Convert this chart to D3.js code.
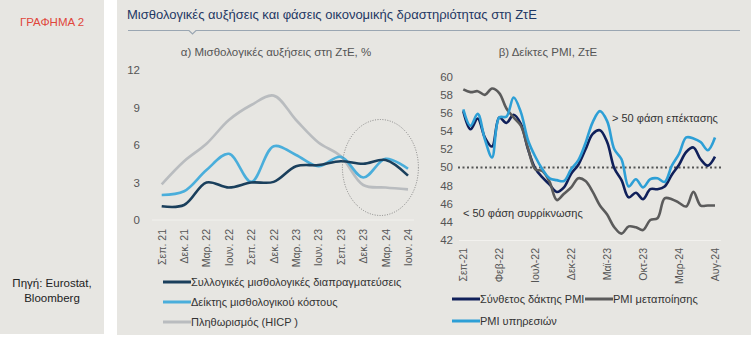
<!DOCTYPE html>
<html>
<head>
<meta charset="utf-8">
<script src="https://cdn.jsdelivr.net/npm/d3@7"></script>
<style>
  body { margin: 0; background: #fff; }
  svg { display: block; font-family: "Liberation Sans", Arial, sans-serif; }
</style>
</head>
<body>
<svg id="chart" width="751" height="338"></svg>
<script>
// left chart: quarterly wage growth, %
var quarters = ["Σεπ. 21", "Δεκ. 21", "Μαρ. 22", "Ιουν. 22", "Σεπ. 22", "Δεκ. 22",
  "Μαρ. 23", "Ιουν. 23", "Σεπ. 23", "Δεκ. 23", "Μαρ. 24", "Ιουν. 24"];
var negotiated = [1.1, 1.2, 3.0, 2.6, 3.0, 3.05, 4.3, 4.4, 4.7, 4.5, 4.8, 3.55];
var wageCost = [2.0, 2.3, 4.0, 5.3, 3.05, 5.9, 5.2, 4.3, 5.05, 3.4, 4.9, 4.1];
var hicp = [2.85, 4.7, 6.1, 8.0, 9.2, 9.95, 8.0, 6.2, 5.1, 2.8, 2.6, 2.45];
var leftTicks = [0, 3, 6, 9, 12];

// right chart: monthly PMI, Sep-21 .. Aug-24
var months = ["Σεπ-21", "Οκτ-21", "Νοε-21", "Δεκ-21", "Ιαν-22", "Φεβ-22", "Μαρ-22", "Απρ-22",
  "Μαϊ-22", "Ιουν-22", "Ιουλ-22", "Αυγ-22", "Σεπ-22", "Οκτ-22", "Νοε-22", "Δεκ-22",
  "Ιαν-23", "Φεβ-23", "Μαρ-23", "Απρ-23", "Μαϊ-23", "Ιουν-23", "Ιουλ-23", "Αυγ-23",
  "Σεπ-23", "Οκτ-23", "Νοε-23", "Δεκ-23", "Ιαν-24", "Φεβ-24", "Μαρ-24", "Απρ-24",
  "Μαϊ-24", "Ιουν-24", "Ιουλ-24", "Αυγ-24"];
var composite = [56.2, 54.2, 55.4, 53.3, 52.3, 55.5, 54.9, 55.8, 54.8, 52.0, 49.9, 48.9,
  48.1, 47.3, 47.8, 49.3, 50.3, 52.0, 53.7, 54.1, 52.8, 49.9, 48.6, 46.7,
  47.2, 46.5, 47.6, 47.6, 47.9, 49.2, 50.3, 51.7, 52.2, 50.9, 50.2, 51.2];
var manufacturing = [58.6, 58.3, 58.4, 58.0, 58.7, 58.2, 56.5, 55.5, 54.6, 52.1, 49.8, 49.6,
  48.4, 46.4, 47.1, 47.8, 48.8, 48.5, 47.3, 45.8, 44.8, 43.4, 42.7, 43.5,
  43.4, 43.1, 44.2, 44.4, 46.6, 46.5, 46.1, 45.7, 47.3, 45.8, 45.8, 45.8];
var services = [56.4, 54.6, 55.9, 53.1, 51.1, 55.5, 55.6, 57.7, 56.1, 53.0, 51.2, 49.8,
  48.8, 48.6, 48.5, 49.8, 50.8, 52.7, 55.0, 56.2, 55.1, 52.0, 50.9, 47.9,
  48.7, 47.8, 48.7, 48.8, 48.4, 50.2, 51.5, 53.3, 53.2, 52.8, 51.9, 53.3];
var rightTicks = [42, 44, 46, 48, 50, 52, 54, 56, 58, 60];
var monthLabelStep = 5;

var svg = d3.select("#chart");
var bg = "#e7e6e2";

// panels
svg.append("rect").attr("x", 0).attr("y", 0).attr("width", 104).attr("height", 334).attr("fill", bg);
svg.append("rect").attr("x", 117).attr("y", 0).attr("width", 634).attr("height", 335).attr("fill", bg);

svg.append("text").attr("x", 52).attr("y", 26).attr("text-anchor", "middle")
  .attr("font-size", 11.5).attr("fill", "#e0463c").text("ΓΡΑΦΗΜΑ 2");
svg.append("text").attr("x", 52).attr("y", 287).attr("text-anchor", "middle")
  .attr("font-size", 11.5).attr("fill", "#222").text("Πηγή: Eurostat,");
svg.append("text").attr("x", 52).attr("y", 302).attr("text-anchor", "middle")
  .attr("font-size", 11.5).attr("fill", "#222").text("Bloomberg");

// title and rule with the small notch
svg.append("text").attr("x", 127).attr("y", 19).attr("font-size", 13)
  .attr("fill", "#1f3864").text("Μισθολογικές αυξήσεις και φάσεις οικονομικής δραστηριότητας στη ΖτΕ");
svg.append("path")
  .attr("d", "M128,30.5H189L192.5,34L196,30.5H740")
  .attr("fill", "none").attr("stroke", "#9aa6b2").attr("stroke-width", 1.2);

svg.append("text").attr("x", 276).attr("y", 56).attr("text-anchor", "middle")
  .attr("font-size", 11.5).attr("fill", "#555").text("α) Μισθολογικές αυξήσεις στη ΖτΕ, %");
svg.append("text").attr("x", 548).attr("y", 56).attr("text-anchor", "middle")
  .attr("font-size", 11.5).attr("fill", "#555").text("β) Δείκτες PMI, ΖτΕ");

// ---- left chart ----
var x1 = d3.scalePoint().domain(quarters).range([161.7, 408]);
var y1 = d3.scaleLinear().domain([0, 12]).range([220, 70]);

var left = svg.append("g");
left.append("line").attr("x1", 152).attr("x2", 414).attr("y1", y1(0)).attr("y2", y1(0))
  .attr("stroke", "#f2f1ee").attr("stroke-width", 1);

left.selectAll(".ytick").data(leftTicks).enter().append("text")
  .attr("x", 140).attr("y", function (d) { return y1(d) + 4; })
  .attr("text-anchor", "end").attr("font-size", 11.5).attr("fill", "#555")
  .text(function (d) { return d; });

left.selectAll(".xtick").data(quarters).enter().append("text")
  .attr("transform", function (d) { return "translate(" + (x1(d) + 4) + ",229) rotate(-90)"; })
  .attr("text-anchor", "end").attr("font-size", 10.5).attr("fill", "#555")
  .text(function (d) { return d; });

var line1 = d3.line()
  .x(function (d, i) { return x1(quarters[i]); })
  .y(function (d) { return y1(d); })
  .curve(d3.curveCatmullRom.alpha(0.5));

var leftSeries = [
  { name: "Πληθωρισμός (HICP )", values: hicp, color: "#b9bcbf" },
  { name: "Δείκτης μισθολογικού κόστους", values: wageCost, color: "#4aaedb" },
  { name: "Συλλογικές μισθολογικές διαπραγματεύσεις", values: negotiated, color: "#1a3f5c" }
];
leftSeries.forEach(function (s) {
  left.append("path").datum(s.values).attr("d", line1)
    .attr("fill", "none").attr("stroke", s.color).attr("stroke-width", 2.6);
});

// dotted ellipse around the latest quarters
left.append("ellipse")
  .attr("cx", (x1("Δεκ. 23") + x1("Μαρ. 24")) / 2 + 6).attr("cy", y1(4.2))
  .attr("rx", 38).attr("ry", 48)
  .attr("fill", "none").attr("stroke", "#7a7a7a").attr("stroke-width", 0.9)
  .attr("stroke-dasharray", "1,1.5");

var leftLegend = leftSeries.slice().reverse();
leftLegend.forEach(function (s, i) {
  var yy = 282 + i * 20;
  left.append("line").attr("x1", 163).attr("x2", 191).attr("y1", yy).attr("y2", yy)
    .attr("stroke", s.color).attr("stroke-width", 3);
  left.append("text").attr("x", 191).attr("y", yy + 4).attr("font-size", 11)
    .attr("fill", "#333").text(s.name);
});

// ---- right chart ----
var x2 = d3.scaleLinear().domain([0, months.length - 1]).range([463.3, 715]);
var y2 = d3.scaleLinear().domain([42, 60]).range([240, 76.7]);

var right = svg.append("g");
right.append("line").attr("x1", 459).attr("x2", 721).attr("y1", 240.5).attr("y2", 240.5)
  .attr("stroke", "#f2f1ee").attr("stroke-width", 1);

right.selectAll(".ytick").data(rightTicks).enter().append("text")
  .attr("x", 453).attr("y", function (d) { return y2(d) + 4; })
  .attr("text-anchor", "end").attr("font-size", 11.5).attr("fill", "#555")
  .text(function (d) { return d; });

var shownMonths = months.filter(function (d, i) { return i % monthLabelStep === 0; });
right.selectAll(".xtick").data(shownMonths).enter().append("text")
  .attr("transform", function (d) { return "translate(" + (x2(months.indexOf(d)) + 4) + ",248) rotate(-90)"; })
  .attr("text-anchor", "end").attr("font-size", 10.5).attr("fill", "#555")
  .text(function (d) { return d; });

// 50 threshold
right.append("line").attr("x1", 458).attr("x2", 723).attr("y1", y2(50)).attr("y2", y2(50))
  .attr("stroke", "#555").attr("stroke-width", 2).attr("stroke-dasharray", "2,2.5");

right.append("text").attr("x", 612).attr("y", y2(55.5) + 4).attr("font-size", 11)
  .attr("fill", "#333").text("> 50 φάση επέκτασης");
right.append("text").attr("x", 463).attr("y", y2(45) + 4).attr("font-size", 11)
  .attr("fill", "#333").text("< 50 φάση συρρίκνωσης");

var line2 = d3.line()
  .x(function (d, i) { return x2(i); })
  .y(function (d) { return y2(d); })
  .curve(d3.curveCatmullRom.alpha(0.5));

var rightSeries = [
  { name: "Σύνθετος δάκτης PMI", values: composite, color: "#10205a", lx: 452, ly: 299 },
  { name: "PMI μεταποίησης", values: manufacturing, color: "#5b5b5b", lx: 585, ly: 299 },
  { name: "PMI υπηρεσιών", values: services, color: "#2d9fd6", lx: 452, ly: 321 }
];
rightSeries.forEach(function (s) {
  right.append("path").datum(s.values).attr("d", line2)
    .attr("fill", "none").attr("stroke", s.color).attr("stroke-width", 2.6);
});
rightSeries.forEach(function (s) {
  right.append("line").attr("x1", s.lx).attr("x2", s.lx + 28).attr("y1", s.ly).attr("y2", s.ly)
    .attr("stroke", s.color).attr("stroke-width", 3);
  right.append("text").attr("x", s.lx + 28).attr("y", s.ly + 4).attr("font-size", 11)
    .attr("fill", "#333").text(s.name);
});
</script>
</body>
</html>
